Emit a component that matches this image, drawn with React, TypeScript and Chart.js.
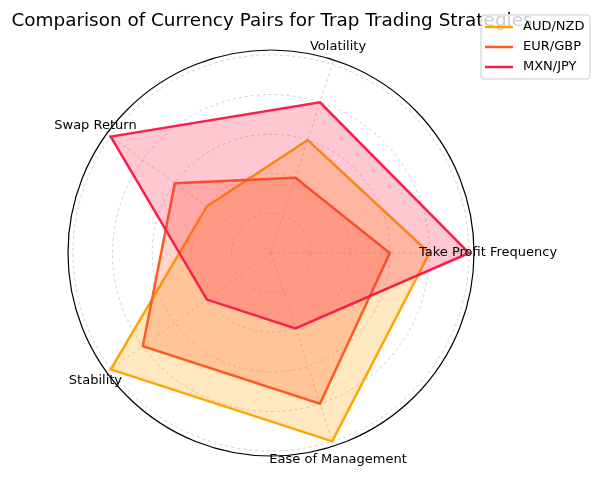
import { useEffect, useRef } from "react";
import Chart from "chart.js/auto";

// categories in the order of the reference (counter-clockwise from the right)
const categories = [
  "Take Profit Frequency",
  "Volatility",
  "Swap Return",
  "Stability",
  "Ease of Management",
];
const seriesNames = ["AUD/NZD", "EUR/GBP", "MXN/JPY"];
const audNzd = [8, 6, 4, 10, 10];
const eurGbp = [6, 4, 6, 8, 8];
const mxnJpy = [10, 8, 10, 4, 4];
const radialTicks = [2, 4, 6, 8, 10];
const rMax = 10.25;

const colors = ["#FFA500", "#FF5A1F", "#FA1E4B"];
const fills = ["rgba(255,165,0,0.25)", "rgba(255,90,31,0.25)", "rgba(250,30,75,0.25)"];
const FONT = "'DejaVu Sans', sans-serif";

// chart.js goes clockwise, matplotlib counter-clockwise
const order = [0, 4, 3, 2, 1];
const pick = <T,>(arr: T[]) => order.map((i) => arr[i]);

const App = () => {
  const canvasRef = useRef<HTMLCanvasElement>(null);

  useEffect(() => {
    if (!canvasRef.current) return;
    const series = [audNzd, eurGbp, mxnJpy];

    const chart = new Chart(canvasRef.current, {
      type: "radar",
      data: {
        labels: pick(categories),
        datasets: series.map((vals, i) => ({
          label: seriesNames[i],
          data: pick(vals),
          borderColor: colors[i],
          backgroundColor: fills[i],
          borderWidth: 2.5,
          borderJoinStyle: "miter" as const,
          pointRadius: 0,
          fill: true,
          tension: 0,
          order: 3 - i,
        })),
      },
      options: {
        responsive: false,
        animation: false,
        layout: { padding: { left: 68, top: 50, right: 126, bottom: 21 } },
        plugins: {
          legend: { display: false },
          title: { display: false },
          tooltip: { enabled: false },
        },
        scales: {
          r: {
            min: 0,
            max: rMax,
            startAngle: 90,
            afterBuildTicks: (scale: any) => {
              scale.ticks = [0, ...radialTicks, rMax].map((value) => ({ value }));
            },
            ticks: { display: false },
            pointLabels: { display: false },
            grid: {
              circular: true,
              color: (c: any) => (c.tick && c.tick.value === rMax ? "#000000" : "#c4c4c4"),
              lineWidth: (c: any) => (c.tick && c.tick.value === rMax ? 1.2 : 0.8),
            },
            border: {
              dash: (c: any) => (c.tick && c.tick.value === rMax ? [] : [3, 3]),
            },
            angleLines: { color: "#c4c4c4", lineWidth: 0.8, borderDash: [3, 3] },
          },
        },
      },
      plugins: [
        {
          id: "mplDecor",
          afterDraw: (c: any) => {
            const ctx = c.ctx;
            const scale = c.scales.r;
            ctx.save();
            // title
            ctx.fillStyle = "#000";
            ctx.font = `18.4px ${FONT}`;
            ctx.textAlign = "center";
            ctx.textBaseline = "alphabetic";
            ctx.fillText("Comparison of Currency Pairs for Trap Trading Strategies", 272, 26);

            // category labels
            ctx.font = `13px ${FONT}`;
            ctx.textBaseline = "middle";
            c.data.labels.forEach((lab: string, i: number) => {
              const p = scale.getPointPosition(i, scale.drawingArea + 14);
              ctx.fillText(lab, p.x, p.y);
            });

            // legend
            const bx = 481, by = 15, bw = 109, bh = 64;
            ctx.beginPath();
            ctx.roundRect(bx, by, bw, bh, 3);
            ctx.fillStyle = "rgba(255,255,255,0.8)";
            ctx.fill();
            ctx.strokeStyle = "#cccccc";
            ctx.lineWidth = 1;
            ctx.stroke();
            ctx.textAlign = "left";
            seriesNames.forEach((name, i) => {
              const y = 27 + i * 20;
              ctx.beginPath();
              ctx.moveTo(485, y);
              ctx.lineTo(513, y);
              ctx.strokeStyle = colors[i];
              ctx.lineWidth = 2.5;
              ctx.stroke();
              ctx.fillStyle = "#000";
              ctx.fillText(name, 523, y);
            });
            ctx.restore();
          },
        },
      ],
    } as any);

    return () => {
      chart.destroy();
    };
  }, []);

  return (
    <div style={{ position: "absolute", left: 0, top: 0, width: 600, height: 477, background: "#fff" }}>
      <canvas ref={canvasRef} width={600} height={477} />
    </div>
  );
};

export default App;
